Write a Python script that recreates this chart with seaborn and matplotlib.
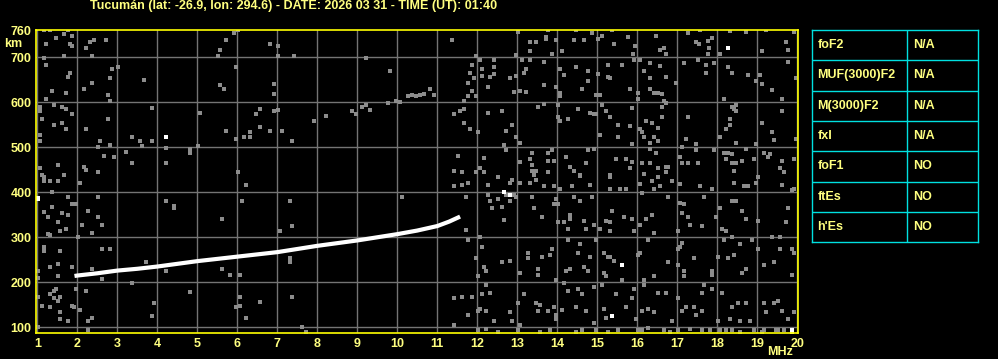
import matplotlib
matplotlib.use("Agg")
import matplotlib.pyplot as plt
import seaborn as sns
import pandas as pd

# ---------------- data ----------------
title_text = "Tucumán (lat: -26.9, lon: 294.6) - DATE: 2026 03 31 - TIME (UT): 01:40"
freq_ticks = list(range(1, 21))
km_ticks = [100, 200, 300, 400, 500, 600, 700, 760]
km_grid = [100, 200, 300, 400, 500, 600, 700]

trace_freq = [1.93, 2.0, 2.5, 3.0, 3.5, 4.0, 4.5, 5.0, 5.5, 6.0, 6.5, 7.0,
              7.5, 8.0, 8.5, 9.0, 9.5, 10.0, 10.5, 11.0, 11.3, 11.57]
trace_km = [214, 215, 220, 226, 230, 235, 241, 247, 252, 257, 262, 267,
            274, 281, 287, 293, 300, 307, 315, 325, 335, 346]

noise_band_700 = [
    (1.18, 761), (1.33, 761), (1.78, 761), (1.68, 751), (1.47, 744), (1.88, 748), (1.23, 730),
    (1.83, 730), (1.88, 726), (1.68, 704), (2.33, 735), (2.43, 739), (2.73, 739), (2.23, 721),
    (2.38, 704), (5.93, 753), (6.03, 761), (5.73, 739), (5.58, 717), (5.53, 704), (6.83, 730),
    (7.03, 726), (7.03, 704), (7.43, 704),
    (11.38, 739), (13.03, 757), (13.73, 745), (13.73, 741), (13.78, 761), (13.97, 739), (14.47, 760),
    (14.43, 739), (14.88, 754), (15.03, 741), (15.13, 748), (15.38, 760), (15.43, 730), (15.78, 745),
    (15.95, 726), (16.48, 748), (16.58, 717), (16.68, 721), (16.73, 708), (17.28, 753), (17.48, 734),
    (17.55, 730), (17.58, 761), (17.78, 736), (17.8, 721), (17.88, 744), (17.78, 708), (18.08, 708),
    (18.33, 758), (18.73, 757), (19.23, 761), (19.13, 713), (19.73, 735), (19.78, 717), (19.93, 757),
    (12.98, 705), (13.33, 735), (13.48, 735), (13.33, 713), (13.88, 708), (14.13, 714), (11.98, 704),
    (14.68, 739), (15.9, 708),
]
noise_band_600 = [
    (1.18, 699), (1.23, 684), (1.83, 666), (1.78, 657), (1.38, 626), (1.73, 621), (1.23, 608),
    (2.18, 630), (2.38, 644), (2.83, 653), (2.88, 675), (3.03, 679), (2.78, 617), (2.83, 604),
    (3.68, 650), (5.98, 679), (5.58, 639), (5.68, 630), (6.93, 641), (6.93, 619), (9.23, 699),
    (9.83, 670), (10.83, 630), (10.93, 617), (10.68, 619), (10.58, 617), (10.48, 613), (10.38, 617),
    (10.28, 613), (10.08, 601), (9.98, 604), (9.78, 599),
    (11.88, 684), (12.08, 693), (12.13, 675), (12.43, 693), (12.43, 679), (12.13, 659), (12.33, 657),
    (12.43, 664), (11.83, 666), (11.93, 653), (11.78, 644), (11.88, 626), (11.78, 613), (11.68, 604),
    (11.98, 613), (12.28, 635), (12.83, 653), (12.93, 624), (12.98, 659), (13.23, 673), (13.18, 666),
    (13.13, 693), (13.33, 693), (13.23, 624), (13.08, 626), (13.68, 690), (13.68, 639), (14.08, 673),
    (14.18, 661), (13.98, 635), (14.08, 621), (14.08, 613), (14.48, 679), (14.78, 670), (14.78, 648),
    (14.63, 630), (14.98, 617), (15.08, 617), (15.03, 664), (15.28, 657), (15.33, 653), (15.28, 684),
    (15.63, 684), (15.83, 630), (15.93, 693), (16.08, 693), (16.18, 670), (16.33, 688), (16.33, 653),
    (16.58, 681), (16.73, 657), (16.33, 630), (16.43, 621), (16.53, 621), (16.63, 619), (16.03, 621),
    (16.03, 608), (16.68, 604), (17.18, 688), (17.53, 693), (17.73, 684), (17.73, 666), (17.93, 688),
    (18.28, 679), (18.38, 666), (18.78, 661), (19.08, 661), (19.13, 641), (18.98, 648), (19.38, 628),
    (19.63, 608), (19.78, 690), (19.98, 653), (18.18, 608), (16.98, 644),
]
noise_band_500 = [
    (1.08, 590), (1.08, 581), (1.13, 564), (1.43, 593), (1.63, 590), (1.73, 586), (1.88, 573),
    (1.43, 550), (1.63, 555), (1.73, 541), (1.08, 528), (1.08, 515), (2.23, 541), (2.78, 564),
    (2.58, 515), (2.83, 506), (3.88, 588), (3.38, 524), (3.58, 515), (3.63, 504), (3.88, 515),
    (5.08, 577), (5.73, 537), (5.96, 519), (6.18, 524), (6.33, 533), (6.33, 524), (6.48, 575),
    (6.58, 586), (6.58, 546), (6.83, 537), (6.93, 581), (7.03, 584), (7.13, 537), (7.38, 515),
    (7.93, 559), (8.23, 570), (8.88, 581), (8.98, 573), (9.13, 590), (9.23, 595), (9.33, 584),
    (11.43, 573), (11.58, 581), (11.68, 586), (11.68, 553), (11.83, 541), (12.03, 533), (12.28, 577),
    (12.63, 581), (12.73, 537), (12.88, 550), (12.98, 524), (12.68, 506), (13.08, 510), (13.53, 590),
    (13.68, 597), (14.03, 595), (14.03, 568), (14.08, 559), (14.28, 564), (14.53, 586), (14.83, 577),
    (14.93, 573), (14.98, 575), (15.08, 528), (15.13, 595), (15.23, 581), (15.33, 568), (15.53, 550),
    (15.53, 524), (15.83, 548), (15.88, 588), (15.88, 508), (16.08, 541), (16.13, 533), (16.23, 559),
    (16.38, 555), (16.53, 544), (16.18, 524), (16.33, 510), (16.43, 524), (16.53, 515), (16.63, 590),
    (16.63, 568), (16.73, 599), (17.23, 519), (17.28, 568), (17.48, 508), (18.08, 524), (18.23, 541),
    (18.33, 550), (18.33, 564), (18.38, 590), (18.48, 595), (18.43, 586), (18.48, 581), (19.13, 555),
    (19.38, 535), (19.43, 517), (19.63, 581), (19.98, 519), (18.98, 508), (18.48, 510),
]
noise_band_400 = [
    (1.13, 439), (1.08, 453), (1.53, 461), (1.68, 439), (1.18, 433), (2.18, 457), (2.23, 450),
    (2.53, 444), (2.68, 481), (2.53, 501), (2.93, 479), (3.23, 490), (3.38, 466), (4.23, 499),
    (4.23, 466), (4.83, 497), (4.83, 488), (5.03, 504), (6.03, 444),
    (1.18, 424), (1.33, 424), (1.53, 424), (2.08, 421), (1.38, 401), (6.23, 417),
    (11.53, 481), (11.43, 448), (11.63, 444), (11.98, 444), (12.18, 477), (12.08, 453), (12.18, 444),
    (12.73, 493), (13.08, 468), (13.38, 488), (13.33, 475), (13.38, 461), (13.38, 448), (13.48, 448),
    (13.43, 439), (13.78, 488), (13.88, 493), (13.78, 470), (13.93, 470), (13.78, 444), (14.23, 479),
    (14.33, 457), (14.43, 448), (14.58, 439), (14.73, 466), (14.93, 497), (14.78, 493), (15.33, 439),
    (15.48, 475), (15.73, 475), (15.88, 468), (15.83, 453), (16.13, 466), (16.18, 441), (16.33, 497),
    (16.48, 488), (16.33, 466), (16.53, 453), (16.73, 457), (16.78, 457), (16.73, 444), (17.13, 501),
    (17.08, 479), (17.13, 466), (17.28, 466), (17.48, 495), (17.53, 466), (17.93, 493), (18.18, 488),
    (18.28, 488), (18.38, 484), (18.23, 475), (18.38, 466), (18.43, 448), (18.48, 466), (18.63, 470),
    (18.73, 497), (18.93, 475), (19.18, 488), (19.33, 486), (19.28, 479), (19.63, 470), (19.58, 453),
    (19.68, 444), (19.93, 473),
    (11.43, 413), (11.63, 417), (11.78, 421), (12.28, 417), (12.53, 433), (12.88, 428), (12.83, 421),
    (13.08, 421), (13.33, 421), (13.48, 428), (13.68, 415), (13.93, 413), (14.08, 408), (14.38, 413),
    (14.58, 437), (14.83, 417), (15.33, 433), (15.33, 408), (15.58, 408), (15.73, 408), (16.08, 419),
    (16.38, 424), (16.43, 408), (16.53, 433), (16.58, 413), (16.88, 424), (17.08, 419), (17.58, 413),
    (17.88, 408), (18.43, 421), (18.68, 413), (18.78, 415), (18.98, 421), (19.03, 433), (19.63, 417),
    (19.93, 408),
]
noise_band_300 = [
    (1.38, 368), (1.78, 390), (1.88, 373), (1.98, 373), (2.53, 390), (1.18, 357), (1.28, 346),
    (1.63, 355), (1.78, 350), (2.28, 359), (2.53, 346), (1.53, 333), (1.58, 315), (1.73, 319),
    (2.13, 328), (2.63, 328), (2.38, 310), (1.28, 308), (1.33, 306), (2.03, 301), (4.23, 381),
    (4.43, 370), (4.43, 366), (5.63, 341), (6.13, 381), (7.33, 381), (7.08, 315), (7.38, 324), (10.13, 390),
    (11.73, 390), (12.28, 395), (12.33, 381), (12.53, 386), (12.63, 368), (12.38, 364), (12.83, 381),
    (12.73, 395), (12.93, 395), (12.68, 339), (11.73, 317), (12.08, 301), (12.98, 390), (13.38, 390),
    (13.43, 364), (13.63, 346), (13.98, 386), (14.03, 373), (13.93, 373), (14.33, 350), (14.33, 341),
    (14.03, 333), (14.18, 333), (14.28, 319), (14.43, 390), (14.58, 381), (14.68, 337), (14.73, 319),
    (14.93, 328), (14.88, 390), (15.08, 319), (15.33, 333), (15.23, 337), (15.38, 359), (15.33, 315),
    (15.68, 346), (15.88, 341), (15.93, 315), (16.13, 399), (16.08, 328), (16.23, 341), (16.38, 350),
    (16.43, 310), (16.78, 390), (17.08, 377), (17.13, 355), (17.28, 346), (17.33, 328), (17.18, 373),
    (17.03, 315), (17.63, 324), (17.68, 390), (17.98, 346), (18.08, 364), (18.13, 319), (18.38, 381),
    (18.48, 381), (18.63, 359), (18.73, 341), (19.03, 337), (19.73, 333), (19.78, 364), (19.38, 301),
    (19.58, 301), (19.88, 404), (18.23, 315), (18.38, 301),
]
noise_band_200 = [
    (1.18, 279), (1.18, 270), (1.58, 270), (2.63, 275), (2.83, 275), (1.33, 235), (1.53, 241),
    (1.03, 226), (1.03, 210), (1.53, 213), (1.88, 235), (2.38, 230), (2.63, 208), (3.38, 199),
    (3.73, 246), (4.23, 226), (5.63, 230), (5.83, 217), (6.08, 217), (7.33, 253), (7.33, 244),
    (11.78, 293), (12.13, 279), (11.98, 253), (12.23, 226), (12.18, 235), (12.03, 213), (12.63, 244),
    (12.83, 248), (13.08, 221), (13.28, 266), (13.28, 253), (13.53, 230), (13.53, 217), (13.83, 261),
    (13.88, 275), (13.63, 257), (13.98, 204), (14.28, 293), (14.58, 284), (14.53, 266), (14.33, 230),
    (14.23, 226), (14.68, 235), (14.78, 226), (14.83, 257), (14.98, 293), (15.18, 266), (15.28, 257),
    (15.33, 257), (15.43, 248), (15.18, 221), (15.23, 213), (15.63, 204), (16.08, 266), (16.03, 261),
    (16.28, 293), (16.18, 204), (16.43, 213), (16.78, 244), (17.03, 275), (17.08, 279), (17.13, 288),
    (17.03, 239), (17.18, 226), (17.18, 213), (17.43, 253), (17.88, 226), (17.88, 217), (18.03, 257),
    (18.18, 293), (18.28, 253), (18.43, 261), (18.58, 284), (18.63, 221), (18.73, 230), (18.88, 293),
    (19.03, 275), (19.18, 239), (19.43, 244), (19.58, 275), (19.88, 275), (19.88, 217), (19.93, 266),
]
noise_band_100 = [
    (1.03, 168), (1.33, 173), (1.48, 186), (1.43, 181), (1.58, 168), (1.43, 164), (1.53, 159),
    (1.13, 148), (1.33, 144), (1.58, 135), (1.58, 119), (1.78, 113), (1.88, 148), (1.93, 144),
    (2.08, 139), (1.98, 186), (2.23, 181), (2.38, 121), (2.28, 113), (1.03, 101), (4.83, 179),
    (3.93, 155), (3.88, 126), (6.08, 168), (6.08, 148), (5.98, 144), (6.23, 121), (6.58, 157),
    (7.38, 168), (7.63, 101), (7.73, 90), (2.28, 95),
    (12.23, 195), (12.13, 173), (12.33, 177), (11.88, 168), (11.43, 164), (11.63, 168), (12.03, 137),
    (12.08, 141), (12.23, 137), (11.78, 128), (12.43, 115), (12.88, 115), (12.83, 135), (13.18, 173),
    (13.03, 155), (13.48, 155), (13.58, 150), (13.53, 137), (13.78, 137), (13.93, 146), (13.98, 119),
    (13.98, 128), (14.13, 139), (14.28, 181), (14.18, 199), (14.53, 186), (14.63, 173), (14.48, 146),
    (14.73, 137), (14.93, 190), (14.93, 110), (15.13, 195), (15.18, 141), (15.23, 121), (15.48, 173),
    (15.73, 146), (15.88, 164), (15.93, 186), (15.98, 119), (16.13, 137), (16.18, 195), (16.28, 141),
    (16.43, 133), (16.53, 177), (16.73, 177), (16.88, 115), (17.03, 164), (17.13, 137), (17.23, 146),
    (17.43, 146), (17.48, 128), (17.63, 177), (17.68, 195), (17.63, 137), (17.88, 186), (18.13, 177),
    (18.03, 115), (18.33, 119), (18.38, 146), (18.53, 155), (18.58, 115), (18.73, 155), (18.83, 115),
    (19.18, 155), (19.23, 133), (19.43, 155), (19.53, 159), (19.63, 137), (19.78, 119), (19.93, 133),
    (11.43, 104), (12.03, 95), (12.23, 97), (12.53, 90), (13.08, 104), (13.03, 95), (13.58, 90),
    (13.83, 95), (14.48, 90), (14.63, 95), (14.98, 95), (15.28, 90), (15.53, 93), (16.03, 95),
    (16.13, 93), (16.28, 99), (16.68, 93), (16.83, 90), (17.03, 93), (17.33, 97), (17.63, 93),
    (17.83, 95), (18.08, 93), (18.23, 93), (18.38, 95), (18.58, 90), (18.93, 95), (19.18, 93),
    (19.48, 95), (19.53, 95), (19.68, 93), (19.13, 90),
]
white_dots = [(4.23, 524), (1.03, 388), (1.03, 384), (18.28, 721), (12.68, 401), (12.83, 395),
              (15.63, 239), (15.38, 126), (19.88, 93), (19.88, 90)]

param_names = ["foF2", "MUF(3000)F2", "M(3000)F2", "fxI", "foF1", "ftEs", "h'Es"]
param_values = ["N/A", "N/A", "N/A", "N/A", "NO", "NO", "NO"]

# ---------------- styling ----------------
TXT = "#ffff80"
FRAME = "#ffff00"
GRID = "#747474"
DOT = "#8c8c8c"
CYAN = "#00e0e0"
FS = 9.0

sns.set_theme(style="dark")
plt.rcParams['font.family'] = ['Liberation Sans', 'DejaVu Sans']
plt.rcParams['font.weight'] = 'bold'

W, H = 998, 359
fig = plt.figure(figsize=(W / 100, H / 100), dpi=100, facecolor="black")

ax = fig.add_axes([36 / W, 26 / H, 761.5 / W, 303.5 / H])
ax.set_facecolor("black")
ax.grid(False)
for g in freq_ticks:
    ax.axvline(g, color=GRID, lw=1.0, zorder=0)
for g in km_grid:
    ax.axhline(g, color=GRID, lw=1.0, zorder=0)

noise = pd.DataFrame(noise_band_700 + noise_band_600 + noise_band_500 + noise_band_400 +
                     noise_band_300 + noise_band_200 + noise_band_100, columns=["freq", "km"])
whites = pd.DataFrame(white_dots, columns=["freq", "km"])
trace = pd.DataFrame({"freq": trace_freq, "km": trace_km})

sns.scatterplot(data=noise, x="freq", y="km", ax=ax, marker="s", s=5, color=DOT,
                linewidth=0, zorder=2, legend=False)
sns.scatterplot(data=whites, x="freq", y="km", ax=ax, marker="s", s=5, color="white",
                linewidth=0, zorder=3, legend=False)
sns.lineplot(data=trace, x="freq", y="km", ax=ax, color="white", lw=3.0, zorder=4,
             sort=True, estimator=None, solid_capstyle="butt")

ax.set_xlim(0.968, 20.005)
ax.set_ylim(87.3, 761.8)
ax.set_xticks(freq_ticks)
ax.set_xticklabels([str(t) for t in freq_ticks])
ax.set_yticks(km_ticks)
ax.set_yticklabels([str(t) for t in km_ticks])
ax.set_xlabel("")
ax.set_ylabel("")
ax.tick_params(axis="both", length=0, colors=TXT, labelsize=FS)
ax.tick_params(axis="x", pad=3.5)
ax.tick_params(axis="y", pad=3.3)
for lab in ax.get_xticklabels() + ax.get_yticklabels():
    lab.set_fontweight("bold")
for sp in ax.spines.values():
    sp.set_visible(True)
    sp.set_color(FRAME)
    sp.set_linewidth(1.2)
    sp.set_zorder(5)

fig.text(294 / W, 1 - 6.5 / H, title_text, color=TXT, fontsize=FS, fontweight="bold",
         ha="center", va="center")
fig.text(13.5 / W, 1 - 44 / H, "km", color=TXT, fontsize=FS, fontweight="bold",
         ha="center", va="center")
fig.text(780 / W, 1 - 352 / H, "MHz", color=TXT, fontsize=FS, fontweight="bold",
         ha="center", va="center")

# parameter table
tx0, tx1, ty0, ty1 = 812, 977.7, 30, 242.3
tab = fig.add_axes([tx0 / W, 1 - ty1 / H, (tx1 - tx0) / W, (ty1 - ty0) / H])
tab.set_facecolor("black")
tab.set_xlim(0, 1)
tab.set_ylim(len(param_names), 0)
tab.set_xticks([])
tab.set_yticks([])
tab.grid(False)
for sp in tab.spines.values():
    sp.set_visible(True)
    sp.set_color(CYAN)
    sp.set_linewidth(1.0)
div = (907.3 - tx0) / (tx1 - tx0)
tab.axvline(div, color=CYAN, lw=1.0)
for i in range(1, len(param_names)):
    tab.axhline(i, color=CYAN, lw=1.0)
for i, (n, v) in enumerate(zip(param_names, param_values)):
    tab.text((817.3 - tx0) / (tx1 - tx0), i + 0.5, n, color=TXT, fontsize=FS,
             fontweight="bold", ha="left", va="center")
    tab.text((912.7 - tx0) / (tx1 - tx0), i + 0.5, v, color=TXT, fontsize=FS,
             fontweight="bold", ha="left", va="center")

fig.savefig("out.png", dpi=100, facecolor="black")
